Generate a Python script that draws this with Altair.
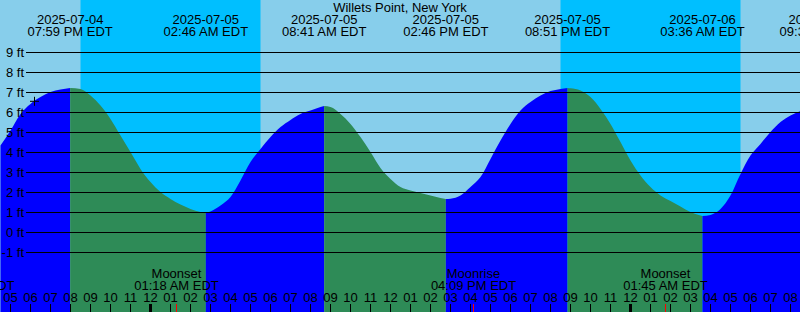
import altair as alt
import pandas as pd

title_text = "Willets Point, New York"

# Tide curve samples (local time, EDT) and heights in feet
curve_time = [
    "2025-07-04T16:30", "2025-07-04T17:00", "2025-07-04T17:30", "2025-07-04T18:00",
    "2025-07-04T18:30", "2025-07-04T19:00", "2025-07-04T19:30", "2025-07-04T19:59",
    "2025-07-04T20:30", "2025-07-04T21:00", "2025-07-04T21:30", "2025-07-04T22:00",
    "2025-07-04T22:30", "2025-07-04T23:00", "2025-07-04T23:30", "2025-07-05T00:00",
    "2025-07-05T00:30", "2025-07-05T01:00", "2025-07-05T01:30", "2025-07-05T02:00",
    "2025-07-05T02:30", "2025-07-05T02:46",
    "2025-07-05T03:00", "2025-07-05T03:30", "2025-07-05T04:00", "2025-07-05T04:30",
    "2025-07-05T05:00", "2025-07-05T05:30", "2025-07-05T06:00", "2025-07-05T06:30",
    "2025-07-05T07:00", "2025-07-05T07:30", "2025-07-05T08:00", "2025-07-05T08:30",
    "2025-07-05T08:41",
    "2025-07-05T09:00", "2025-07-05T09:30", "2025-07-05T10:00", "2025-07-05T10:30",
    "2025-07-05T11:00", "2025-07-05T11:30", "2025-07-05T12:00", "2025-07-05T12:30",
    "2025-07-05T13:00", "2025-07-05T13:30", "2025-07-05T14:00", "2025-07-05T14:30",
    "2025-07-05T14:46",
    "2025-07-05T15:00", "2025-07-05T15:30", "2025-07-05T16:00", "2025-07-05T16:30",
    "2025-07-05T17:00", "2025-07-05T17:30", "2025-07-05T18:00", "2025-07-05T18:30",
    "2025-07-05T19:00", "2025-07-05T19:30", "2025-07-05T20:00", "2025-07-05T20:30",
    "2025-07-05T20:51",
    "2025-07-05T21:00", "2025-07-05T21:30", "2025-07-05T22:00", "2025-07-05T22:30",
    "2025-07-05T23:00", "2025-07-05T23:30", "2025-07-06T00:00", "2025-07-06T00:30",
    "2025-07-06T01:00", "2025-07-06T01:30", "2025-07-06T02:00", "2025-07-06T02:30",
    "2025-07-06T03:00", "2025-07-06T03:30", "2025-07-06T03:36",
    "2025-07-06T04:00", "2025-07-06T04:30", "2025-07-06T05:00", "2025-07-06T05:30",
    "2025-07-06T06:00", "2025-07-06T06:30", "2025-07-06T07:00", "2025-07-06T07:30",
    "2025-07-06T08:00", "2025-07-06T08:30",
]
curve_ft = [
    4.35, 5.10, 5.93, 6.43, 6.77, 7.02, 7.15, 7.23,
    7.18, 6.85, 6.35, 5.68, 4.85, 4.02, 3.18, 2.52, 2.02, 1.68, 1.40, 1.18, 1.02, 0.97,
    1.05, 1.35, 1.77, 2.60, 3.52, 4.18, 4.77, 5.27, 5.63, 5.93, 6.10, 6.27, 6.32,
    6.27, 5.93, 5.43, 4.77, 4.02, 3.23, 2.68, 2.27, 2.10, 1.97, 1.85, 1.73, 1.68,
    1.69, 1.85, 2.27, 2.77, 3.68, 4.60, 5.43, 6.10, 6.52, 6.85, 7.07, 7.18, 7.23,
    7.21, 7.10, 6.77, 6.18, 5.43, 4.52, 3.60, 2.85, 2.27, 1.85, 1.57, 1.30, 1.02, 0.85, 0.82,
    0.88, 1.18, 1.85, 2.93, 3.85, 4.43, 5.02, 5.52, 5.85, 6.07,
]

# High / low tide events
tide_time = [
    "2025-07-04T19:59", "2025-07-05T02:46", "2025-07-05T08:41", "2025-07-05T14:46",
    "2025-07-05T20:51", "2025-07-06T03:36", "2025-07-06T09:34",
]

# Night (sunset -> sunrise)
night_start = ["2025-07-04T20:30", "2025-07-05T20:30"]
night_end = ["2025-07-05T05:30", "2025-07-06T05:30"]

# Moon events
moon_event = ["Moonrise", "Moonset", "Moonrise", "Moonset"]
moon_time = ["2025-07-04T15:04", "2025-07-05T01:18", "2025-07-05T16:09", "2025-07-06T01:45"]

# Level lines (ft)
levels = [-1, 0, 1, 2, 3, 4, 5, 6, 7, 8, 9]

# Hour ticks along the bottom (17:00 on 07-04 through 08:00 on 07-06)
hour_ticks = (
    [f"2025-07-04T{h:02d}:00" for h in range(17, 24)]
    + [f"2025-07-05T{h:02d}:00" for h in range(0, 24)]
    + [f"2025-07-06T{h:02d}:00" for h in range(0, 9)]
)

marker_time = ["2025-07-04T18:12"]
marker_ft = [6.56]

# ---- build segment table (rising / falling between extremes) ----
tide_set = set(tide_time)
bounds = [0] + [i for i, t in enumerate(curve_time) if t in tide_set] + [len(curve_time) - 1]
rows = []
for k in range(len(bounds) - 1):
    a, b = bounds[k], bounds[k + 1]
    phase = "rising" if curve_ft[b] > curve_ft[a] else "falling"
    for i in range(a, b + 1):
        rows.append({"t": curve_time[i], "ft": curve_ft[i], "seg": k, "phase": phase})
curve_df = pd.DataFrame(rows)

night_df = pd.DataFrame({"start": night_start, "end": night_end})
tide_df = pd.DataFrame({"t": tide_time})
moon_df = pd.DataFrame({"ev": moon_event, "t": moon_time})
lvl_df = pd.DataFrame({"lvl": levels})
hour_df = pd.DataFrame({"t": hour_ticks})
marker_df = pd.DataFrame({"t": marker_time, "ft": marker_ft})
title_df = pd.DataFrame({"s": [title_text]})

W, H = 800, 312
FS = 13

# domains shifted by half a pixel so 1px rules land crisply on pixel rows/columns
xs = alt.Scale(domain=[alt.DateTime(year=2025, month=7, date=4, hours=16, minutes=28, seconds=30),
                       alt.DateTime(year=2025, month=7, date=6, hours=8, minutes=28, seconds=30)])
ys = alt.Scale(domain=[-3.975, 11.625])

X = lambda f: alt.X(f, scale=xs, axis=None)
Y = lambda f: alt.Y(f, scale=ys, axis=None)

night = alt.Chart(night_df).mark_rect(color="#00BFFF").encode(
    x=X("start:T"), x2="end:T", y=alt.value(0), y2=alt.value(H),
)

area = alt.Chart(curve_df).mark_area(interpolate="monotone").encode(
    x=X("t:T"),
    y=alt.Y("ft:Q", scale=ys, axis=None, stack=None),
    y2=alt.value(H),
    color=alt.Color("phase:N", scale=alt.Scale(domain=["rising", "falling"],
                                               range=["#0000FF", "#2E8B57"]), legend=None),
    detail="seg:N",
)

rules = alt.Chart(lvl_df).mark_rule(color="black", strokeWidth=1).encode(
    y=Y("lvl:Q"), x=alt.value(26), x2=alt.value(W),
)

lvl_labels = alt.Chart(lvl_df).transform_calculate(
    lab="datum.lvl + ' ft'"
).mark_text(fontSize=FS, align="right", baseline="middle", color="black").encode(
    y=Y("lvl:Q"), x=alt.value(24), text="lab:N",
)

hour_tick = alt.Chart(hour_df).mark_rule(color="black", strokeWidth=1).encode(
    x=X("t:T"), y=alt.value(304), y2=alt.value(H),
)
midnight_tick = alt.Chart(hour_df).transform_filter(
    "hours(datum.t) == 0"
).mark_rule(color="black", strokeWidth=3).encode(
    x=X("t:T"), y=alt.value(304), y2=alt.value(H),
)

txt = dict(fontSize=FS, baseline="alphabetic", color="black", align="center")

hour_lab = alt.Chart(hour_df).mark_text(**txt).encode(
    x=X("t:T"), y=alt.value(302), text=alt.Text("t:T", format="%I"),
)

moon_ticks = alt.Chart(moon_df).mark_rule(color="#FF0000", strokeWidth=1).encode(
    x=X("t:T"), y=alt.value(304), y2=alt.value(H),
)

date_txt = alt.Chart(tide_df).mark_text(**txt).encode(
    x=X("t:T"), y=alt.value(24), text=alt.Text("t:T", format="%Y-%m-%d"),
)
time_txt = alt.Chart(tide_df).mark_text(**txt).encode(
    x=X("t:T"), y=alt.value(36), text=alt.Text("t:T", format="%I:%M %p EDT"),
)
moon_name = alt.Chart(moon_df).mark_text(**txt).encode(
    x=X("t:T"), y=alt.value(278), text="ev:N",
)
moon_clock = alt.Chart(moon_df).mark_text(**txt).encode(
    x=X("t:T"), y=alt.value(290), text=alt.Text("t:T", format="%I:%M %p EDT"),
)
title = alt.Chart(title_df).mark_text(**txt).encode(
    x=alt.value(W / 2), y=alt.value(12), text="s:N",
)
marker = alt.Chart(marker_df).mark_point(
    shape="M-1,0L1,0M0,-1L0,1", size=81, filled=False, color="black",
    strokeWidth=1, opacity=1,
).encode(x=X("t:T"), y=Y("ft:Q"))

chart = alt.layer(
    night, area, rules, lvl_labels, hour_tick, midnight_tick, moon_ticks, hour_lab,
    date_txt, time_txt, moon_name, moon_clock, title, marker,
).properties(
    width=W, height=H, autosize=alt.AutoSizeParams(type="none"),
    padding={"left": 0, "top": 0, "right": 0, "bottom": 0},
    background="#87CEEB",
).configure(font="Liberation Sans").configure_view(strokeWidth=0, fill="#87CEEB")

chart.save("out.html", embed_options={"renderer": "svg", "actions": False})
